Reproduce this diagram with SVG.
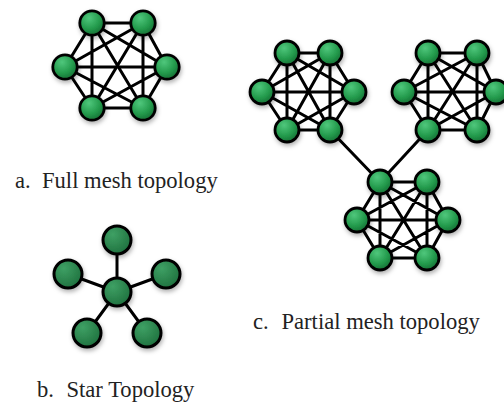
<svg xmlns="http://www.w3.org/2000/svg" width="504" height="409" viewBox="0 0 504 409">
<defs>
<radialGradient id="g" cx="0.38" cy="0.3" r="0.75">
<stop offset="0" stop-color="#4fc77c"/>
<stop offset="0.6" stop-color="#239a4c"/>
<stop offset="1" stop-color="#146c32"/>
</radialGradient>
<radialGradient id="gs" cx="0.35" cy="0.3" r="0.8">
<stop offset="0" stop-color="#3ea064"/>
<stop offset="1" stop-color="#1d6e3c"/>
</radialGradient>
<filter id="sh" x="-50%" y="-50%" width="200%" height="200%">
<feDropShadow dx="1" dy="2.5" stdDeviation="2" flood-color="#000" flood-opacity="0.3"/>
</filter>
</defs>
<style>
.e{stroke:#000;stroke-width:3;stroke-linecap:round;fill:none}
.n{fill:url(#g);stroke:#000;stroke-width:2.8;filter:url(#sh)}
.s{fill:url(#gs);stroke:#000;stroke-width:3;filter:url(#sh)}
.t{font-family:"Liberation Serif","Times New Roman",serif;font-size:22.6px;fill:#222}
</style>
<g id="connectors">
<g id="mesh-a-links">
<path class="e" d="M92,23L143,23M92,23L65,67M92,23L167,67M92,23L92,108M92,23L143,108M143,23L65,67M143,23L167,67M143,23L92,108M143,23L143,108M65,67L167,67M65,67L92,108M65,67L143,108M167,67L92,108M167,67L143,108M92,108L143,108"/>
</g>
<g id="mesh-l-links">
<path class="e" d="M287,53L330,53M287,53L262,92M287,53L354,92M287,53L287,130M287,53L330,130M330,53L262,92M330,53L354,92M330,53L287,130M330,53L330,130M262,92L354,92M262,92L287,130M262,92L330,130M354,92L287,130M354,92L330,130M287,130L330,130"/>
</g>
<g id="mesh-r-links">
<path class="e" d="M428,53L477,53M428,53L404,92M428,53L496,92M428,53L428,130M428,53L477,130M477,53L404,92M477,53L496,92M477,53L428,130M477,53L477,130M404,92L496,92M404,92L428,130M404,92L477,130M496,92L428,130M496,92L477,130M428,130L477,130"/>
</g>
<g id="mesh-b-links">
<path class="e" d="M380,182L427,182M380,182L357,220M380,182L448,220M380,182L380,258M380,182L427,258M427,182L357,220M427,182L448,220M427,182L380,258M427,182L427,258M357,220L448,220M357,220L380,258M357,220L427,258M448,220L380,258M448,220L427,258M380,258L427,258"/>
</g>
<path id="link-l-b" class="e" d="M330,130L380,182"/>
<path id="link-r-b" class="e" d="M428,130L380,182"/>
<g id="star-links">
<path class="e" d="M117,292L117,240M117,292L68,274M117,292L166,274M117,292L87,333M117,292L147,333"/>
</g>
</g>
<g id="mesh-a">
<g id="a1"><circle class="n" cx="92" cy="23" r="12.2"/></g>
<g id="a2"><circle class="n" cx="143" cy="23" r="12.2"/></g>
<g id="a3"><circle class="n" cx="65" cy="67" r="12.2"/></g>
<g id="a4"><circle class="n" cx="167" cy="67" r="12.2"/></g>
<g id="a5"><circle class="n" cx="92" cy="108" r="12.2"/></g>
<g id="a6"><circle class="n" cx="143" cy="108" r="12.2"/></g>
</g>
<g id="mesh-l">
<g id="l1"><circle class="n" cx="287" cy="53" r="12"/></g>
<g id="l2"><circle class="n" cx="330" cy="53" r="12"/></g>
<g id="l3"><circle class="n" cx="262" cy="92" r="12"/></g>
<g id="l4"><circle class="n" cx="354" cy="92" r="12"/></g>
<g id="l5"><circle class="n" cx="287" cy="130" r="12"/></g>
<g id="l6"><circle class="n" cx="330" cy="130" r="12"/></g>
</g>
<g id="mesh-r">
<g id="r1"><circle class="n" cx="428" cy="53" r="12"/></g>
<g id="r2"><circle class="n" cx="477" cy="53" r="12"/></g>
<g id="r3"><circle class="n" cx="404" cy="92" r="12"/></g>
<g id="r4"><circle class="n" cx="496" cy="92" r="12"/></g>
<g id="r5"><circle class="n" cx="428" cy="130" r="12"/></g>
<g id="r6"><circle class="n" cx="477" cy="130" r="12"/></g>
</g>
<g id="mesh-b">
<g id="b1"><circle class="n" cx="380" cy="182" r="12"/></g>
<g id="b2"><circle class="n" cx="427" cy="182" r="12"/></g>
<g id="b3"><circle class="n" cx="357" cy="220" r="12"/></g>
<g id="b4"><circle class="n" cx="448" cy="220" r="12"/></g>
<g id="b5"><circle class="n" cx="380" cy="258" r="12"/></g>
<g id="b6"><circle class="n" cx="427" cy="258" r="12"/></g>
</g>
<g id="star">
<g id="s0"><circle class="s" cx="117" cy="292" r="14"/></g>
<g id="s1"><circle class="s" cx="117" cy="240" r="14"/></g>
<g id="s2"><circle class="s" cx="68" cy="274" r="14"/></g>
<g id="s3"><circle class="s" cx="166" cy="274" r="14"/></g>
<g id="s4"><circle class="s" cx="87" cy="333" r="14"/></g>
<g id="s5"><circle class="s" cx="147" cy="333" r="14"/></g>
</g>
<g id="labels">
<text id="label-a" class="t" y="188"><tspan x="15">a.</tspan><tspan x="42">Full mesh topology</tspan></text>
<text id="label-c" class="t" y="329"><tspan x="253">c.</tspan><tspan x="281.5">Partial mesh topology</tspan></text>
<text id="label-b" class="t" y="397"><tspan x="37">b.</tspan><tspan x="66.5">Star Topology</tspan></text>
</g>
</svg>
